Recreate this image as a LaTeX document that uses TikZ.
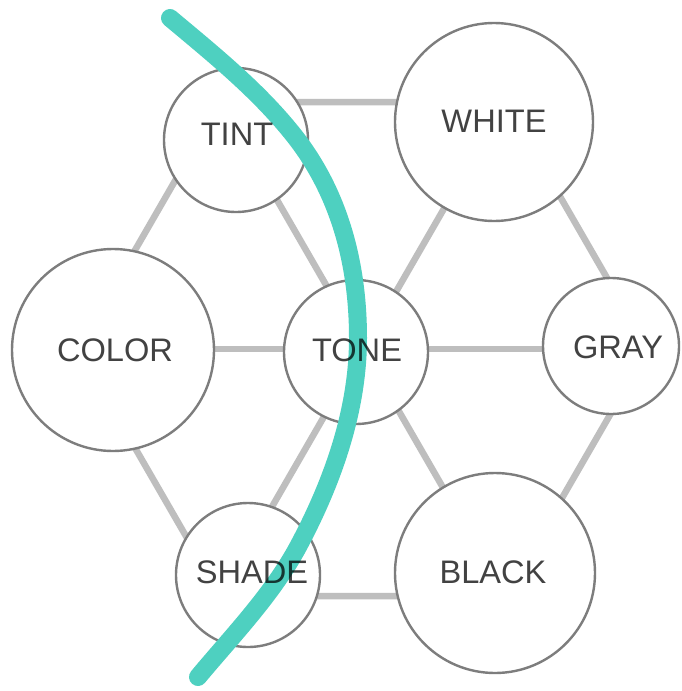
\documentclass[tikz,border=0pt]{standalone}
\usepackage{fontspec}
\setmainfont{Liberation Sans}
\definecolor{tealarc}{RGB}{78,208,192}
\definecolor{linkgray}{RGB}{190,190,190}
\definecolor{ringgray}{RGB}{125,125,125}
\begin{document}
\begin{tikzpicture}[x=1pt,y=-1pt,
  ring/.style={circle,draw=ringgray,line width=2.4pt,fill=white,inner sep=0pt},
  link/.style={draw=linkgray,line width=6.5pt},
  word/.style={text=black,text opacity=0.74,inner sep=0pt,font=\fontsize{32.6}{36}\selectfont},
  arcstroke/.style={draw=tealarc,line width=18pt,line cap=round}]
\useasboundingbox (0,0) rectangle (681,691);
\fill[white] (0,0) rectangle (681,691);
% hexagon vertices
\coordinate (hc) at (363,349);
\coordinate (vR) at (648,349);
\coordinate (vTR) at (505.5,102);
\coordinate (vTL) at (220.5,102);
\coordinate (vL) at (78,349);
\coordinate (vBL) at (220.5,596);
\coordinate (vBR) at (505.5,596);
% connectors
\draw[link] (vTL) -- (vTR) -- (vR) -- (vBR) -- (vBL) -- (vL) -- cycle;
\draw[link] (hc) -- (vR);
\draw[link] (hc) -- (vTR);
\draw[link] (hc) -- (vTL);
\draw[link] (hc) -- (vL);
\draw[link] (hc) -- (vBL);
\draw[link] (hc) -- (vBR);
% circles
\node[ring,minimum size=144pt] (tint) at (236,140) {};
\node[ring,minimum size=198pt] (white) at (494,122) {};
\node[ring,minimum size=202pt] (color) at (113,350) {};
\node[ring,minimum size=144pt] (tone) at (356,352) {};
\node[ring,minimum size=136pt] (gray) at (611,346) {};
\node[ring,minimum size=144pt] (shade) at (248,575) {};
\node[ring,minimum size=200pt] (black) at (495,573) {};
% teal arc
\coordinate (a0) at (170,18);
\coordinate (a1) at (292,133);
\coordinate (a2) at (358,338);
\coordinate (a3) at (299,545);
\coordinate (a4) at (198,677);
\draw[arcstroke] (a0) .. controls (213,54) and (257,89.5) .. (a1)
  .. controls (339,191) and (358,263) .. (a2)
  .. controls (358,410) and (333,481) .. (a3)
  .. controls (273,594) and (233,635) .. (a4);
% labels
\node[word] (tintT) at (237,134) {TINT};
\node[word] (whiteT) at (494,121) {WHITE};
\node[word] (colorT) at (115,350) {COLOR};
\node[word] (toneT) at (357,350) {TONE};
\node[word] (grayT) at (618,347) {GRAY};
\node[word] (shadeT) at (252,572) {SHADE};
\node[word] (blackT) at (493,572) {BLACK};
\end{tikzpicture}
\end{document}
